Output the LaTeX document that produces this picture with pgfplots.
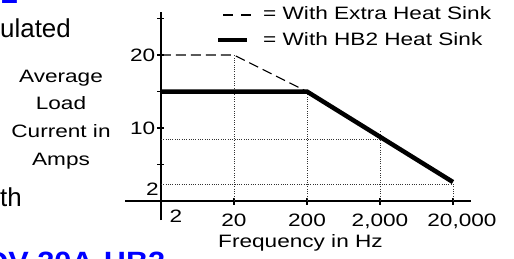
\documentclass[border=0pt]{standalone}
\usepackage{pgfplots}
\pgfplotsset{compat=1.18}
\usepackage{fontspec}
\setmainfont{Liberation Sans}
\newfontfamily\chartfont[FakeStretch=1.26]{Liberation Sans}
\newfontfamily\bluefont[FakeStretch=1.1]{Liberation Sans}
\newcommand\cf{\chartfont\fontsize{18}{21}\selectfont}
\definecolor{titleblue}{RGB}{0,0,255}
\begin{document}
\begin{tikzpicture}[x=1bp,y=1bp]
\useasboundingbox (0,0) rectangle (514,258);
\clip (0,0) rectangle (514,258);
\begin{axis}[
  at={(125bp,38bp)}, anchor=south west,
  scale only axis, width=346bp, height=208bp,
  xmin=-0.493, xmax=4.247, ymin=-2.6, ymax=25.9,
  axis lines=middle,
  axis line style={-, line width=1.2bp},
  every inner x axis line/.append style={-},
  every inner y axis line/.append style={-},
  xtick={1,2,3,4},
  xticklabels={20,200,{2,000},{\hspace{18bp}20,000}},
  ytick={5,10,15,20,25},
  yticklabels={,10,,20,},
  extra x ticks={0.205}, extra x tick labels={2},
  extra y ticks={1.6}, extra y tick labels={2},
  extra tick style={major tick length=0pt},
  tick align=center,
  major tick length=7bp,
  tick style={line width=1.2bp, black},
  ticklabel style={font=\cf},
  xticklabel style={anchor=north, inner sep=0pt, yshift=-9bp},
  yticklabel style={anchor=east, inner sep=0pt, xshift=-2bp},
  clip=false,
]
% dotted guide lines
\addplot[black!80, line width=0.7bp, dash pattern=on 0.8bp off 1.5bp] coordinates {(1,0) (1,20)};
\addplot[black!80, line width=0.7bp, dash pattern=on 0.8bp off 1.5bp] coordinates {(2,0) (2,15)};
\addplot[black!80, line width=0.7bp, dash pattern=on 0.8bp off 1.5bp] coordinates {(3,0) (3,9.6)};
\addplot[black!80, line width=0.7bp, dash pattern=on 0.8bp off 1.5bp] coordinates {(4,0) (4,2.4)};
\addplot[black!80, line width=0.7bp, dash pattern=on 0.8bp off 1.5bp] coordinates {(0,8.4) (3.03,8.4)};
\addplot[black!80, line width=0.7bp, dash pattern=on 0.8bp off 1.5bp] coordinates {(0,2.3) (4,2.3)};
% With Extra Heat Sink
\addplot[black, line width=1.2bp, dash pattern=on 10bp off 5bp] coordinates {(0,20) (1,20) (2,15)};
% With HB2 Heat Sink
\addplot[black, line width=4.5bp] coordinates {(0,15) (2,15) (4,2.6)};
\end{axis}
% legend
\draw[black, line width=1.2bp, dash pattern=on 10bp off 8bp] (223,243) -- (252,243);
\draw[black, line width=4.5bp] (218,218) -- (247,218);
\node[anchor=base west, inner sep=0pt, font=\cf] at (263,238.5) {= With Extra Heat Sink};
\node[anchor=base west, inner sep=0pt, font=\cf] at (263,212.3) {= With HB2 Heat Sink};
% axis titles
\node[anchor=base, inner sep=0pt, font=\cf] at (300.5,11) {Frequency in Hz};
\node[anchor=base, inner sep=0pt, font=\cf] at (61,176) {Average};
\node[anchor=base, inner sep=0pt, font=\cf] at (61,149) {Load};
\node[anchor=base, inner sep=0pt, font=\cf] at (61,121) {Current in};
\node[anchor=base, inner sep=0pt, font=\cf] at (61,93) {Amps};
% surrounding page text fragments
\node[anchor=base west, inner sep=0pt, font=\fontsize{26}{30}\selectfont] at (0,221) {ulated};
\node[anchor=base west, inner sep=0pt, font=\fontsize{26}{30}\selectfont] at (0,52) {th};
\node[anchor=base west, inner sep=0pt, text=titleblue, font=\bluefont\bfseries\fontsize{28}{32}\selectfont] at (1,255) {2};
\node[anchor=base west, inner sep=0pt, text=titleblue, font=\bluefont\bfseries\fontsize{28}{32}\selectfont] at (-14,-13) {DV-20A-HB2};
\end{tikzpicture}
\end{document}
